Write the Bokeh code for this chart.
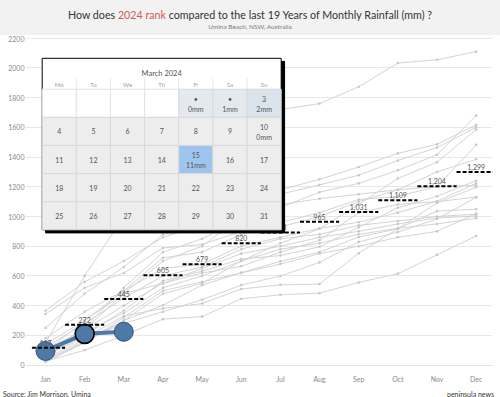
import calendar
import datetime
from bokeh.plotting import figure
from bokeh.models import Range1d, FixedTicker, Div
from bokeh.layouts import column
from bokeh.core.properties import value
from bokeh.embed import file_html
from bokeh.resources import INLINE

FONT = "Lato"

# ---------------- data ----------------
months = ["Jan", "Feb", "Mar", "Apr", "May", "Jun", "Jul", "Aug", "Sep", "Oct", "Nov", "Dec"]
month_idx = list(range(1, 13))

# cumulative monthly rainfall (mm), previous 19 years
rain_2005 = [80, 220, 350, 520, 600, 700, 780, 820, 880, 920, 950, 989]
rain_2006 = [120, 280, 450, 600, 660, 780, 850, 880, 940, 970, 1000, 1016]
rain_2007 = [250, 480, 660, 880, 920, 1080, 1150, 1213, 1278, 1377, 1464, 1600]
rain_2008 = [60, 200, 367, 567, 632, 714, 737, 796, 928, 1059, 1136, 1241]
rain_2009 = [45, 170, 280, 359, 440, 538, 599, 691, 829, 895, 983, 1129]
rain_2010 = [30, 160, 300, 403, 538, 622, 698, 760, 862, 917, 1092, 1197]
rain_2011 = [90, 300, 500, 722, 760, 880, 930, 1000, 1100, 1180, 1300, 1385]
rain_2012 = [180, 360, 500, 650, 680, 800, 860, 920, 961, 1026, 1103, 1223]
rain_2013 = [366, 560, 700, 860, 940, 1100, 1180, 1250, 1333, 1425, 1486, 1617]
rain_2014 = [70, 180, 330, 381, 414, 512, 540, 545, 753, 917, 1037, 1049]
rain_2015 = [343, 520, 620, 788, 812, 900, 960, 1026, 1114, 1136, 1202, 1482]
rain_2016 = [20, 150, 300, 480, 550, 700, 820, 917, 1081, 1256, 1366, 1585]
rain_2017 = [50, 240, 480, 700, 800, 1000, 1080, 1120, 1150, 1180, 1202, 1210]
rain_2018 = [100, 240, 400, 550, 650, 750, 800, 860, 900, 950, 990, 1004]
rain_2019 = [25, 100, 200, 309, 326, 446, 473, 484, 556, 615, 742, 869]
rain_2020 = [140, 300, 480, 550, 620, 665, 760, 840, 1026, 1081, 1100, 1131]
rain_2021 = [40, 250, 520, 760, 850, 980, 1060, 1164, 1223, 1311, 1416, 1679]
rain_2022 = [150, 600, 1000, 1250, 1350, 1580, 1720, 1760, 1873, 2033, 2055, 2110]
rain_2023 = [35, 150, 320, 500, 560, 620, 680, 750, 800, 860, 900, 1020]

past_years = [rain_2005, rain_2006, rain_2007, rain_2008, rain_2009, rain_2010,
              rain_2011, rain_2012, rain_2013, rain_2014, rain_2015, rain_2016,
              rain_2017, rain_2018, rain_2019, rain_2020, rain_2021, rain_2022, rain_2023]

# 2024 so far
months_2024 = [1, 2, 3]
rain_2024 = [95, 210, 224]
selected_2024 = [False, True, False]

# average cumulative per month (dashed markers)
avg_cum = [117, 272, 445, 605, 679, 820, 893, 965, 1031, 1109, 1204, 1299]

y_ticks = list(range(0, 2201, 200))

# calendar inset: March 2024 daily rainfall
cal_year, cal_month = 2024, 3
cal_title = "March 2024"
weekday_names = ["Mo", "Tu", "We", "Th", "Fr", "Sa", "Su"]
cal_rain_days = [1, 2, 3, 10, 15]
cal_rain_mm = [0, 1, 2, 0, 11]
cal_day_marks = {1: "\u2022", 2: "\u2022"}
cal_fill = {1: "#e4e9ef", 2: "#e4e9ef", 3: "#dbe3ec", 15: "#9fc5ee"}

# ---------------- figure ----------------
p = figure(width=500, height=350,
           x_range=Range1d(0.6169, 12.4176), y_range=Range1d(-3, 2205),
           output_backend="svg", toolbar_location=None,
           min_border_left=30, min_border_right=8, min_border_top=2, min_border_bottom=12,
           background_fill_color="white", border_fill_color="white",
           outline_line_color=None)
p.extra_x_ranges = {"cal": Range1d(-0.3427, 13.190)}
p.extra_y_ranges = {"cal": Range1d(-4.826, 6.840)}

p.xgrid.visible = False
p.ygrid.ticker = FixedTicker(ticks=y_ticks)
p.ygrid.grid_line_color = "#e8e8e8"

p.yaxis.ticker = FixedTicker(ticks=y_ticks)
p.yaxis.axis_line_color = None
p.yaxis.major_tick_out = 4
p.yaxis.major_tick_in = 0
p.yaxis.major_tick_line_color = "#e2e2e2"
p.yaxis.minor_tick_line_color = None
p.yaxis.major_label_standoff = 2
p.yaxis.major_label_text_font = FONT
p.yaxis.major_label_text_font_size = "7px"
p.yaxis.major_label_text_color = "#8a8a8a"

p.xaxis.ticker = FixedTicker(ticks=month_idx)
p.xaxis.major_label_overrides = {i: m for i, m in zip(month_idx, months)}
p.xaxis.axis_line_color = "#e4e4e4"
p.xaxis.major_tick_line_color = None
p.xaxis.minor_tick_line_color = None
p.xaxis.major_label_standoff = 3
p.xaxis.major_label_text_font = FONT
p.xaxis.major_label_text_font_size = "7px"
p.xaxis.major_label_text_color = "#8a8a8a"

# past years
for series in past_years:
    p.line(month_idx, series, line_color="#d4d4d4", line_width=1)
    p.scatter(month_idx, series, size=2.6, fill_color="#c8c8c8", line_color=None)

# 2024
p.line(months_2024, rain_2024, line_color="#4e79a7", line_width=4)
p.scatter(months_2024, rain_2024, size=19, fill_color="#4e79a7",
          line_color=["black" if s else "#2f557f" for s in selected_2024],
          line_width=[1.6 if s else 1.0 for s in selected_2024])

# average markers
p.segment(x0=[m - 0.5 for m in month_idx], x1=[m + 0.5 for m in month_idx],
          y0=avg_cum, y1=avg_cum, line_color="black", line_width=2, line_dash="4 2")
p.text(month_idx, avg_cum, text=[f"{v:,}" for v in avg_cum],
       text_font=value(FONT), text_font_size="7px", text_color="#555555",
       text_align="center", text_baseline="bottom", y_offset=-2)

# ---------------- calendar inset ----------------
first_wd = datetime.date(cal_year, cal_month, 1).weekday()
n_days = calendar.monthrange(cal_year, cal_month)[1]
n_weeks = (first_wd + n_days + 6) // 7
header_h = 1.1
sh_x, sh_y = 0.1, 0.11
cal = dict(x_range_name="cal", y_range_name="cal")

p.quad(left=[sh_x], right=[7 + sh_x], bottom=[-sh_y], top=[n_weeks + header_h - sh_y],
       fill_color="black", line_color="black", **cal)
p.quad(left=[0], right=[7], bottom=[0], top=[n_weeks + header_h],
       fill_color="white", line_color="black", line_width=1, **cal)

# header column separators
p.segment(x0=list(range(1, 7)), x1=list(range(1, 7)),
          y0=[n_weeks] * 6, y1=[n_weeks + 0.38] * 6, line_color="#e6e6e6", line_width=1, **cal)

# blank leading cells
blank_cols = list(range(first_wd))
p.quad(left=blank_cols, right=[c + 1 for c in blank_cols],
       bottom=[n_weeks - 1] * len(blank_cols), top=[n_weeks] * len(blank_cols),
       fill_color="white", line_color="#e2e2e2", **cal)

rain_lookup = dict(zip(cal_rain_days, cal_rain_mm))
cx, cy, fills = [], [], []
num_x, num_y, num_t = [], [], []
mm_x, mm_y, mm_t = [], [], []
for d in range(1, n_days + 1):
    pos = first_wd + d - 1
    col, row = pos % 7, pos // 7
    x, y = col + 0.5, n_weeks - row - 0.5
    cx.append(x)
    cy.append(y)
    fills.append(cal_fill.get(d, "#ededed"))
    label = cal_day_marks.get(d, str(d))
    if d in rain_lookup:
        num_x.append(x); num_y.append(y + 0.17); num_t.append(label)
        mm_x.append(x); mm_y.append(y - 0.2); mm_t.append(f"{rain_lookup[d]}mm")
    else:
        num_x.append(x); num_y.append(y); num_t.append(label)

p.rect(cx, cy, width=1, height=1, fill_color=fills, line_color="#d9d9d9", line_width=1, **cal)
p.text(num_x, num_y, text=num_t, text_font=value(FONT), text_font_size="7px",
       text_color="#555555", text_align="center", text_baseline="middle", **cal)
p.text(mm_x, mm_y, text=mm_t, text_font=value(FONT), text_font_size="7px",
       text_color="#555555", text_align="center", text_baseline="middle", **cal)
p.text([c + 0.5 for c in range(7)], [n_weeks + 0.17] * 7, text=weekday_names,
       text_font=value(FONT), text_font_size="6px", text_color="#a0a0a0",
       text_align="center", text_baseline="middle", **cal)
p.text([3.5], [n_weeks + 0.545], text=[cal_title], text_font=value(FONT),
       text_font_size="7.5px", text_color="#555555",
       text_align="center", text_baseline="middle", **cal)

# ---------------- title / footer ----------------
title_div = Div(
    text=(f'<div style="width:500px;height:35px;background:#f2f2f2;text-align:center;'
          f'font-family:{FONT};color:#333333;">'
          '<div style="font-size:10.7px;line-height:14px;padding-top:8px;">How does '
          '<span style="color:#cf5a5d;">2024 rank</span> compared to the last 19 Years of '
          'Monthly Rainfall (mm) ?</div>'
          '<div style="font-size:6.5px;line-height:9px;color:#7a7a7a;">Umina Beach, NSW, Australia</div>'
          '</div>'),
    width=500, height=35, margin=0)

footer_div = Div(
    text=(f'<div style="width:500px;height:12px;display:flex;justify-content:space-between;'
          f'box-sizing:border-box;padding:0 6px 0 3px;'
          f'font-family:{FONT};font-size:7px;line-height:9px;color:#333333;">'
          '<span>Source: Jim Morrison, Umina</span><span>peninsula news</span></div>'),
    width=500, height=12, margin=0)

layout = column(title_div, p, footer_div, spacing=0)

open("out.html", "w").write(file_html(layout, INLINE))
